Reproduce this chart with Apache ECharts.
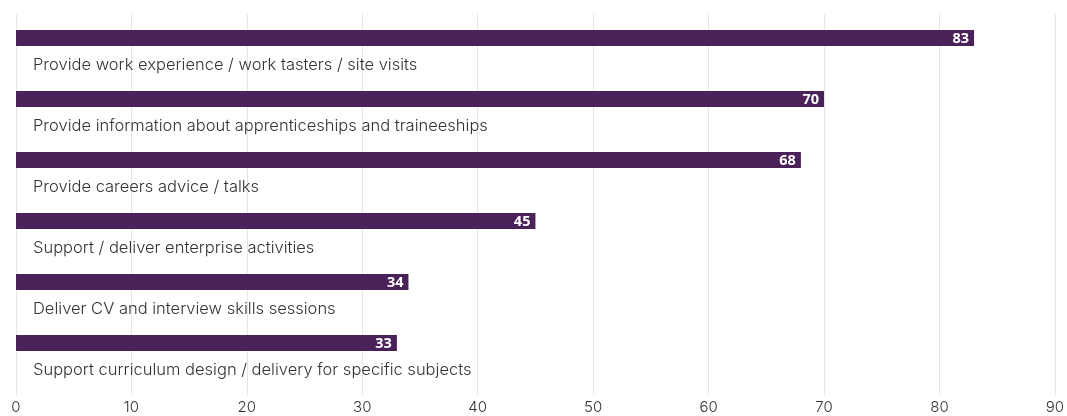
<!DOCTYPE html>
<html>
<head>
<meta charset="utf-8">
<script src="https://cdn.jsdelivr.net/npm/echarts@6/dist/echarts.min.js"></script>
<style>
  html, body { margin: 0; padding: 0; background: #ffffff; }
  #chart { width: 1067px; height: 416px; }
</style>
</head>
<body>
<div id="chart"></div>
<script>
// Activities, in display order (top to bottom)
const categories = [
  'Provide work experience / work tasters / site visits',
  'Provide information about apprenticeships and traineeships',
  'Provide careers advice / talks',
  'Support / deliver enterprise activities',
  'Deliver CV and interview skills sessions',
  'Support curriculum design / delivery for specific subjects'
];
const values = [83, 70, 68, 45, 34, 33];
const xTicks = [0, 10, 20, 30, 40, 50, 60, 70, 80, 90];

const BAR_COLOR = '#4b2159';
const GRID_COLOR = '#e6e6e6';

const chart = echarts.init(document.getElementById('chart'), null, { renderer: 'canvas' });

const seriesData = values.map((v, i) => [v, i]);

chart.setOption({
  animation: false,
  grid: { left: 16, right: 10, top: 14, bottom: 36 },
  xAxis: {
    type: 'value',
    min: xTicks[0],
    max: xTicks[xTicks.length - 1],
    interval: 10,
    axisLine: { show: false },
    axisTick: { show: true, length: 15, lineStyle: { color: GRID_COLOR, width: 1 } },
    splitLine: { show: true, lineStyle: { color: GRID_COLOR, width: 1 } },
    axisLabel: {
      margin: 20,
      fontFamily: 'Inter',
      fontWeight: 300,
      fontSize: 15,
      color: '#333333'
    }
  },
  yAxis: {
    type: 'category',
    data: categories,
    inverse: true,
    show: false
  },
  series: [{
    type: 'custom',
    encode: { x: 0, y: 1 },
    data: seriesData,
    renderItem: function (params, api) {
      const idx = api.value(1);
      const start = api.coord([0, idx]);
      const end = api.coord([api.value(0), idx]);
      const band = api.size([0, 1])[1];
      const bandTop = start[1] - band / 2;
      const barTop = bandTop + 16;
      const barH = 16;
      return {
        type: 'group',
        children: [
          {
            type: 'rect',
            shape: { x: start[0], y: barTop, width: end[0] - start[0], height: barH },
            style: { fill: BAR_COLOR }
          },
          {
            type: 'text',
            style: {
              x: end[0] - 5,
              y: barTop + barH / 2 + 0.5,
              text: String(api.value(0)),
              align: 'right',
              verticalAlign: 'middle',
              fill: '#ffffff',
              font: 'bold 14.5px "Open Sans"'
            }
          },
          {
            type: 'text',
            style: {
              x: start[0] + 17,
              y: barTop + barH + 19,
              text: categories[idx],
              align: 'left',
              verticalAlign: 'middle',
              fill: '#333333',
              font: '300 16.5px Inter'
            }
          }
        ]
      };
    }
  }]
});
</script>
</body>
</html>
